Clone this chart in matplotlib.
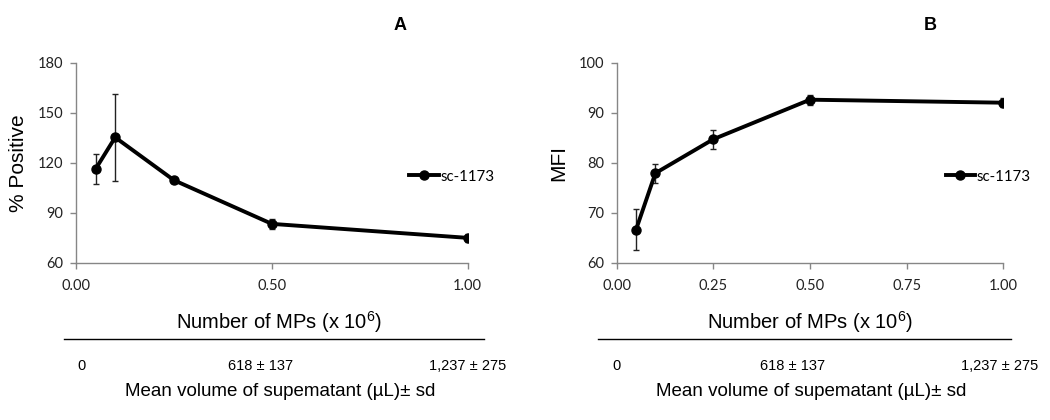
import matplotlib
matplotlib.use("Agg")
import matplotlib.pyplot as plt
from matplotlib.lines import Line2D
import matplotlib.transforms as mtransforms

plt.rcParams["mathtext.fontset"] = "custom"
plt.rcParams["mathtext.rm"] = "Liberation Sans"
plt.rcParams["mathtext.it"] = "Liberation Sans:italic"
plt.rcParams["mathtext.bf"] = "Liberation Sans:bold"

# ---- data ----
x_mps = [0.05, 0.10, 0.25, 0.50, 1.00]
pos_mean = [116.2, 135.2, 109.5, 83.3, 74.9]
pos_err = [9.0, 26.0, 1.5, 2.8, 2.4]
mfi_mean = [66.6, 77.9, 84.7, 92.6, 92.0]
mfi_err = [4.1, 1.9, 1.9, 1.0, 0.9]
series_name = "sc-1173"
panel_titles = ["A", "B"]
y_labels = ["% Positive", "MFI"]
xticks_a = [0.0, 0.5, 1.0]
xticks_b = [0.0, 0.25, 0.5, 0.75, 1.0]
yticks_a = [60, 90, 120, 150, 180]
yticks_b = [60, 70, 80, 90, 100]
volume_labels = ["0", "618 ± 137", "1,237 ± 275"]
x_title = "Number of MPs (x 10$^{\\mathrm{6}}$)"
vol_title = "Mean volume of supematant (µL)± sd"

W, H = 1050, 420
fig = plt.figure(figsize=(W / 100, H / 100), dpi=100)

def fx(px):
    return px / W

def fy(py):
    return 1 - py / H

axA = fig.add_axes([fx(76), fy(262.7), fx(467.7 - 76), (262.7 - 62.7) / H])
axB = fig.add_axes([fx(616.7), fy(262.7), fx(1003.3 - 616.7), (262.7 - 62.7) / H])

gray = "#868686"
tickfont = dict(family=["Lato", "DejaVu Sans"], size=10.5)
arial = ["Liberation Sans", "DejaVu Sans"]

for ax, ym, ye, xt, yt, ylab in [
    (axA, pos_mean, pos_err, xticks_a, yticks_a, y_labels[0]),
    (axB, mfi_mean, mfi_err, xticks_b, yticks_b, y_labels[1]),
]:
    ax.errorbar(x_mps, ym, yerr=ye, color="black", lw=2.8, marker="o",
                markersize=6.5, ecolor="#222222", elinewidth=1.0, capsize=2.5,
                capthick=1.0, zorder=3)
    ax.set_xlim(0, 1.0)
    ax.set_ylim(yt[0], yt[-1])
    ax.set_xticks(xt)
    ax.set_xticklabels([f"{v:.2f}" for v in xt], **tickfont, color="#222222")
    ax.set_yticks(yt)
    ax.set_yticklabels([str(v) for v in yt], **tickfont, color="#222222")
    for s in ["top", "right"]:
        ax.spines[s].set_visible(False)
    for s in ["left", "bottom"]:
        ax.spines[s].set_color(gray)
        ax.spines[s].set_linewidth(1.0)
    ax.tick_params(axis="both", direction="out", length=4, color=gray, width=1.0)
    ax.tick_params(axis="x", pad=8)
    ax.tick_params(axis="y", pad=5)
    ax.set_ylabel(ylab, family=arial, fontsize=15)
    handle = Line2D([], [], color="black", lw=2.8, marker="o", markersize=6.5)
    ax.legend([handle], [series_name], loc="center left",
              bbox_to_anchor=(0.851, 0.43), frameon=False,
              borderpad=0, borderaxespad=0, handlelength=1.95,
              handletextpad=0.1, numpoints=1,
              prop=dict(family=["Lato", "DejaVu Sans"], size=10.8))

axA.yaxis.set_label_coords(-0.1225, 0.5)
axB.yaxis.set_label_coords(-0.126, 0.5)

fig.text(fx(400), fy(25), panel_titles[0], ha="center", va="center",
         fontsize=13, fontweight="bold", family=arial)
fig.text(fx(930), fy(25), panel_titles[1], ha="center", va="center",
         fontsize=13, fontweight="bold", family=arial)

# lower annotation block
for ax, cx, lx0, lx1, vpos in [
    (axA, 279, 64, 484, [0.013, 0.47, 1.0]),
    (axB, 810, 598, 1011, [0.0, 0.456, 0.99]),
]:
    fig.text(fx(cx), fy(322), x_title, ha="center", va="center",
             fontsize=14.5, family=arial)
    fig.add_artist(Line2D([fx(lx0), fx(lx1)], [fy(339), fy(339)],
                          color="black", lw=1.0, transform=fig.transFigure))
    trans = mtransforms.blended_transform_factory(ax.transData, fig.transFigure)
    for v, lab in zip(vpos, volume_labels):
        fig.text(v, fy(366), lab, ha="center", va="center", fontsize=10.5,
                 family=arial, transform=trans)
    fig.text(fx(cx + 1), fy(392), vol_title, ha="center", va="center",
             fontsize=13.5, family=arial)

fig.savefig("out.png", dpi=100)
